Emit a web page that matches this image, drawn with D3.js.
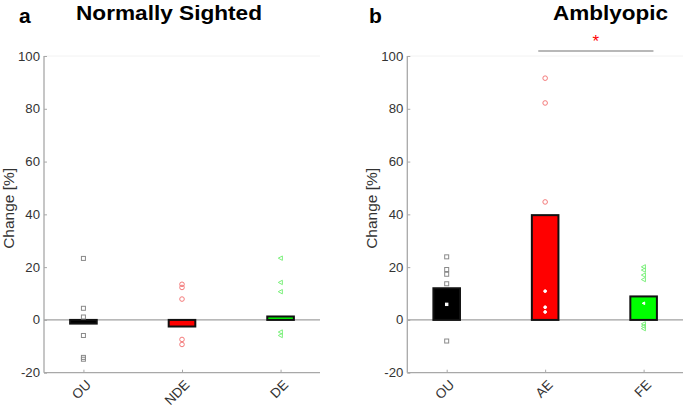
<!DOCTYPE html>
<html><head><meta charset="utf-8">
<script src="https://cdn.jsdelivr.net/npm/d3@7/dist/d3.min.js"></script>
<style>body{margin:0;background:#fff;} svg{display:block;font-family:"Liberation Sans",Arial,sans-serif;}</style>
</head><body><svg id="c" width="685" height="407"></svg>
<script>
// ---- data ----
const yTicks = [-20, 0, 20, 40, 60, 80, 100];
const categoriesA = ["OU", "NDE", "DE"];
const categoriesB = ["OU", "AE", "FE"];
const meansA = [-1.4, -2.5, 1.3];
const meansB = [12.0, 39.7, 8.9];
const pointsA_OU = [23.3, 4.4, 1.1, -5.9, -14.2, -14.9];
const pointsA_NDE = [13.5, 12.3, 7.9, -7.4, -9.3];
const pointsA_DE = [23.4, 14.2, 10.7, -4.6, -5.9];
const pointsB_OU = [23.9, 19.1, 17.3, 13.7, -8.0];
const pointsB_AE = [91.6, 82.2, 44.7];
const pointsB_FE = [20.1, 18.9, 17.0, 15.3, -1.5, -2.4, -3.3];
const innerB_OU = [5.9];
const innerB_AE = [10.9, 4.8, 3.0];
const innerB_FE = [6.3];
const titles = ["Normally Sighted", "Amblyopic"];
const panelLetters = ["a", "b"];
const yLabel = "Change [%]";

const svg = d3.select("#c");
const y = d3.scaleLinear().domain([-20, 100]).range([372.7, 56]);
const barColors = ["#000000", "#ff0000", "#00ff00"];
const markerStroke = ["#8a8a8a", "#f47a7a", "#7cf07c"];
const shapes = ["square", "circle", "tri"];

function marker(g, shape, cx, cy, stroke, fill, s) {
  if (shape === "square") {
    g.append("rect").attr("x", cx - 2 * s).attr("y", cy - 2 * s).attr("width", 4 * s).attr("height", 4 * s)
      .attr("fill", fill).attr("stroke", stroke).attr("stroke-width", 1);
  } else if (shape === "circle") {
    g.append("circle").attr("cx", cx).attr("cy", cy).attr("r", 2.3 * s)
      .attr("fill", fill).attr("stroke", stroke).attr("stroke-width", 1);
  } else {
    g.append("path").attr("d", `M${cx - 2.3 * s},${cy} L${cx + 1.8 * s},${cy - 2.2 * s} L${cx + 1.8 * s},${cy + 2.2 * s} Z`)
      .attr("fill", fill).attr("stroke", stroke).attr("stroke-width", 1);
  }
}

function panel(x0, x1, cats, means, pts, inner, title, letter, letterX, titleX, titleW) {
  const g = svg.append("g");
  const x = d3.scaleLinear().domain([0.6, 3.4]).range([x0, x1]);
  // faint top box line
  g.append("line").attr("x1", x0).attr("x2", x1).attr("y1", y(100)).attr("y2", y(100))
    .attr("stroke", "#f2f2f2").attr("stroke-width", 1);
  // zero line
  g.append("line").attr("x1", x0).attr("x2", x1).attr("y1", y(0)).attr("y2", y(0))
    .attr("stroke", "#a0a0a0").attr("stroke-width", 1.3);
  // axes
  const yAx = g.append("g").attr("transform", `translate(${x0},0)`)
    .call(d3.axisRight(y).tickValues(yTicks).tickSize(3).tickFormat(""));
  yAx.select(".domain").attr("stroke", "#a8a8a8").attr("stroke-width", 1.3).attr("d", `M0,${y(-20)}V${y(100)}`);
  yAx.selectAll(".tick line").attr("stroke", "#a8a8a8");
  yTicks.forEach(t => {
    g.append("text").attr("x", x0 - 4).attr("y", y(t) + 4.5).attr("text-anchor", "end")
      .attr("font-size", 13.2).attr("fill", "#333").text(t);
  });
  const xAx = g.append("g").attr("transform", `translate(0,${y(-20)})`)
    .call(d3.axisTop(x).tickValues([1, 2, 3]).tickSize(3).tickFormat(""));
  xAx.select(".domain").attr("stroke", "#a8a8a8").attr("stroke-width", 1.3).attr("d", `M${x0},0H${x1}`);
  xAx.selectAll(".tick line").attr("stroke", "#a8a8a8");
  cats.forEach((c, i) => {
    const cx = x(i + 1) + 8.5, cy = y(-20) + 13;
    g.append("text").attr("transform", `translate(${cx},${cy}) rotate(-45)`)
      .attr("text-anchor", "end").attr("font-size", 13.5).attr("fill", "#333").text(c);
  });
  // ylabel
  g.append("text").attr("transform", `translate(${x0 - 30},${(y(-20) + y(100)) / 2 - 6}) rotate(-90)`)
    .attr("text-anchor", "middle").attr("font-size", 15.5).attr("fill", "#333").text(yLabel);
  // bars
  const bw = 0.27;
  means.forEach((m, i) => {
    g.append("rect").attr("x", x(i + 1 - bw / 2)).attr("width", x(1 + bw / 2) - x(1 - bw / 2))
      .attr("y", Math.min(y(m), y(0))).attr("height", Math.abs(y(m) - y(0)))
      .attr("fill", barColors[i]).attr("stroke", "#111").attr("stroke-width", 2);
  });
  // points
  pts.forEach((arr, i) => {
    arr.forEach(v => marker(g, shapes[i], x(i + 1), y(v), markerStroke[i], "none", 1));
  });
  if (inner) inner.forEach((arr, i) => {
    arr.forEach(v => marker(g, shapes[i], x(i + 1), y(v), "#fff", "#fff", 0.6));
  });
  // titles
  g.append("text").attr("x", letterX).attr("y", 23).attr("font-size", 21).attr("font-weight", "bold")
    .attr("fill", "#000").text(letter);
  g.append("text").attr("x", titleX).attr("y", 19.5).attr("font-size", 20).attr("font-weight", "bold")
    .attr("textLength", titleW).attr("lengthAdjust", "spacingAndGlyphs")
    .attr("fill", "#000").text(title);
  return x;
}

panel(44, 320, categoriesA, meansA, [pointsA_OU, pointsA_NDE, pointsA_DE], null,
  titles[0], panelLetters[0], 19, 76, 186);
const xB = panel(407.3, 683, categoriesB, meansB, [pointsB_OU, pointsB_AE, pointsB_FE],
  [innerB_OU, innerB_AE, innerB_FE], titles[1], panelLetters[1], 369, 553, 115);

// significance bracket between AE and FE
svg.append("line").attr("x1", xB(1.93)).attr("x2", xB(3.1)).attr("y1", 51).attr("y2", 51)
  .attr("stroke", "#a0a0a0").attr("stroke-width", 1.3);
svg.append("text").attr("x", (xB(1.93) + xB(3.1)) / 2).attr("y", 47).attr("text-anchor", "middle")
  .attr("font-size", 17).attr("fill", "#ff0000").text("*");
</script></body></html>
